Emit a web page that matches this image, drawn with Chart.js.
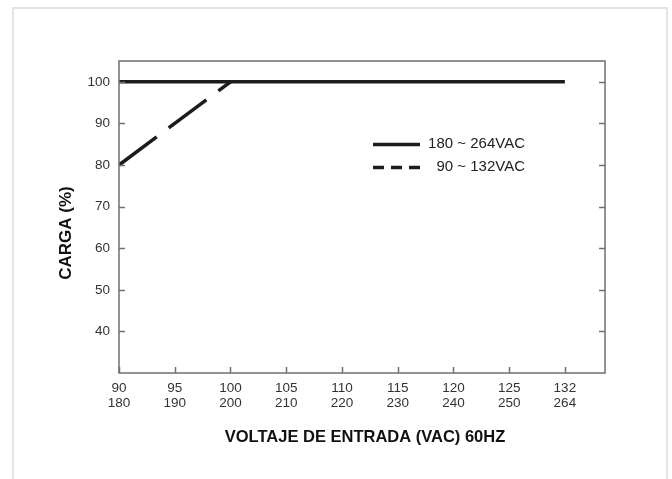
<!DOCTYPE html>
<html>
<head>
<meta charset="utf-8">
<script src="https://cdn.jsdelivr.net/npm/chart.js@4.4.1/dist/chart.umd.min.js"></script>
<style>
  body { margin: 0; background: #fff; }
  #tarjeta {
    position: absolute; left: 12px; top: 7px; width: 652px; height: 520px;
    border: 2px solid #e3e3e3; border-bottom: none; background: #fff;
  }
  #grafica { position: absolute; left: 0; top: 0; }
</style>
</head>
<body>
<div id="tarjeta"></div>
<canvas id="grafica" width="672" height="479"></canvas>
<script>
// Etiquetas del eje X (dos filas: 90~132VAC arriba, 180~264VAC abajo)
const etiquetasArriba = ['90', '95', '100', '105', '110', '115', '120', '125', '132'];
const etiquetasAbajo = ['180', '190', '200', '210', '220', '230', '240', '250', '264'];
// Marcas del eje Y
const marcasY = [40, 50, 60, 70, 80, 90, 100];

// Serie 180 ~ 264VAC (indice de etiqueta X, carga %)
const altaX = [0, 8];
const altaY = [100, 100];
// Serie 90 ~ 132VAC
const bajaX = [0, 2];
const bajaY = [80, 100];

const colorLinea = '#1c1c1c';
const colorEje = '#6f6f6f';
const fuente = "'Liberation Sans', Arial, sans-serif";

function puntos(xs, ys) {
    return xs.map((x, i) => ({ x: x, y: ys[i] }));
}

// Dibuja el marco, las marcas hacia dentro, los titulos y la leyenda
const marcoPlugin = {
    id: 'marco',
    afterDraw(chart) {
        const ctx = chart.ctx;
        const area = chart.chartArea;
        const sx = chart.scales.x;
        const sy = chart.scales.y;
        ctx.save();
        ctx.strokeStyle = colorEje;
        ctx.lineWidth = 1.5;
        ctx.strokeRect(area.left, area.top, area.right - area.left, area.bottom - area.top);

        ctx.beginPath();
        marcasY.forEach(v => {
            const py = Math.round(sy.getPixelForValue(v)) + 0.5;
            ctx.moveTo(area.left, py);
            ctx.lineTo(area.left + 6, py);
            ctx.moveTo(area.right, py);
            ctx.lineTo(area.right - 6, py);
        });
        etiquetasArriba.forEach((e, i) => {
            const px = Math.round(sx.getPixelForValue(i)) + 0.5;
            ctx.moveTo(px, area.bottom);
            ctx.lineTo(px, area.bottom - 6);
        });
        ctx.stroke();

        // Titulos de los ejes
        ctx.fillStyle = '#111';
        ctx.font = 'bold 16.5px ' + fuente;
        ctx.textAlign = 'center';
        ctx.textBaseline = 'middle';
        ctx.fillText('VOLTAJE DE ENTRADA (VAC) 60HZ', 365, 437);
        ctx.save();
        ctx.translate(66, 233);
        ctx.rotate(-Math.PI / 2);
        ctx.font = 'bold 17px ' + fuente;
        ctx.fillText('CARGA (%)', 0, 0);
        ctx.restore();

        // Leyenda
        ctx.strokeStyle = colorLinea;
        ctx.lineWidth = 3.5;
        ctx.beginPath();
        ctx.moveTo(373, 144.5);
        ctx.lineTo(420, 144.5);
        ctx.stroke();
        ctx.setLineDash([11, 7]);
        ctx.beginPath();
        ctx.moveTo(373, 167.5);
        ctx.lineTo(421, 167.5);
        ctx.stroke();
        ctx.setLineDash([]);
        ctx.font = '15px ' + fuente;
        ctx.fillStyle = '#222';
        ctx.textAlign = 'right';
        ctx.fillText('180 ~ 264VAC', 525, 144);
        ctx.fillText('90 ~ 132VAC', 525, 167);
        ctx.restore();
    }
};

const ctx = document.getElementById('grafica').getContext('2d');
const myChart = new Chart(ctx, {
    type: 'line',
    data: {
        datasets: [
            {
                label: '180 ~ 264VAC',
                data: puntos(altaX, altaY),
                borderColor: colorLinea,
                borderWidth: 3.5,
                pointRadius: 0
            },
            {
                label: '90 ~ 132VAC',
                data: puntos(bajaX, bajaY),
                borderColor: colorLinea,
                borderWidth: 3.5,
                borderDash: [47, 15],
                pointRadius: 0
            }
        ]
    },
    options: {
        responsive: false,
        animation: false,
        layout: { padding: { left: 0, top: 61, right: 67, bottom: 0 } },
        plugins: { legend: { display: false }, tooltip: { enabled: false } },
        scales: {
            x: {
                type: 'linear',
                min: 0,
                max: 8.72,
                grid: { display: false, drawTicks: false },
                border: { display: false },
                afterBuildTicks: s => { s.ticks = etiquetasArriba.map((e, i) => ({ value: i })); },
                afterFit: s => { s.height = 106; },
                ticks: {
                    padding: 7,
                    maxRotation: 0,
                    autoSkip: false,
                    color: '#333',
                    font: { family: fuente, size: 13.5, lineHeight: 1.17 },
                    callback: (v, i) => [etiquetasArriba[i], etiquetasAbajo[i]]
                }
            },
            y: {
                min: 30,
                max: 105,
                grid: { display: false, drawTicks: false },
                border: { display: false },
                afterBuildTicks: s => { s.ticks = marcasY.map(v => ({ value: v })); },
                afterFit: s => { s.width = 119; },
                ticks: {
                    padding: 9,
                    color: '#333',
                    font: { family: fuente, size: 13.5 }
                }
            }
        }
    },
    plugins: [marcoPlugin]
});
</script>
</body>
</html>
